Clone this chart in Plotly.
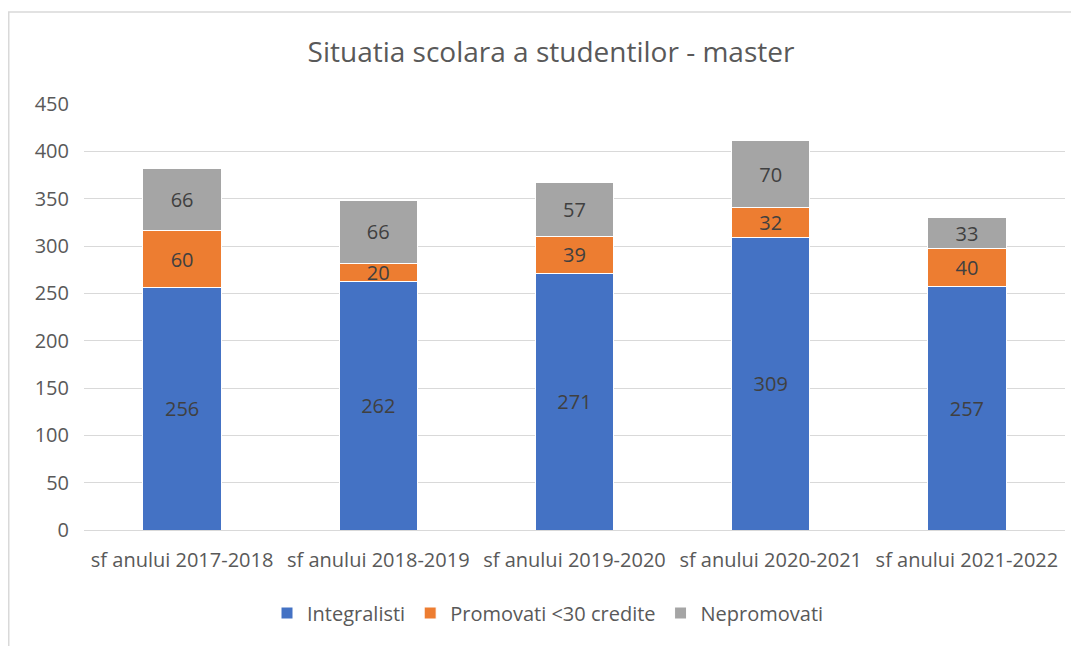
import plotly.graph_objects as go

categories = ["sf anului 2017-2018", "sf anului 2018-2019", "sf anului 2019-2020",
              "sf anului 2020-2021", "sf anului 2021-2022"]
integralisti = [256, 262, 271, 309, 257]
promovati = [60, 20, 39, 32, 40]
nepromovati = [66, 66, 57, 70, 33]

series = [
    ("Integralisti", integralisti, "#4472C4"),
    ("Promovati <30 credite", promovati, "#ED7D31"),
    ("Nepromovati", nepromovati, "#A5A5A5"),
]

# page has an 8px body margin: figure origin sits at page (8, 8)
W, H = 1071, 638
FONT = "Open Sans"
fig = go.Figure()
for name, vals, col in series:
    fig.add_trace(go.Bar(
        x=categories, y=vals, name=name,
        marker=dict(color=col, line=dict(color="white", width=1)),
        text=[str(v) for v in vals], textposition="inside",
        insidetextanchor="middle", textangle=0,
        textfont=dict(family=FONT, size=20, color="#404040"),
        hoverinfo="skip",
    ))

fig.update_layout(
    barmode="stack",
    bargap=0.6,
    width=W, height=H,
    margin=dict(l=76, r=14, t=96, b=116, autoexpand=False),
    paper_bgcolor="white", plot_bgcolor="white",
    font=dict(family=FONT, color="#595959"),
    uniformtext=dict(mode="show", minsize=20),
    title=dict(text="Situatia scolara a studentilor - master",
               x=543 / W, xanchor="center", y=1 - 44 / H, yanchor="middle",
               font=dict(family=FONT, size=28, color="#595959")),
    legend=dict(orientation="h", x=540 / W, xref="container", xanchor="center",
                y=1 - 605 / H, yref="container", yanchor="middle",
                font=dict(family=FONT, size=20, color="#595959"),
                traceorder="normal", itemwidth=30),
    showlegend=True,
)
fig.update_yaxes(range=[0, 450], dtick=50, showgrid=True, gridcolor="#D9D9D9", gridwidth=1,
                 zeroline=False, showline=False, ticks="", automargin=False,
                 tickfont=dict(family=FONT, size=20, color="#595959"),
                 ticklabelstandoff=14)
fig.update_xaxes(showgrid=False, showline=True, linecolor="#D9D9D9", linewidth=1,
                 ticks="", tickangle=0, automargin=False,
                 tickfont=dict(family=FONT, size=20, color="#595959"),
                 ticklabelstandoff=12)

# chart-area border (extends past right and bottom edges like the reference)
fig.add_shape(type="rect", xref="paper", yref="paper",
              x0=(0.75 - 76) / 981, x1=1.1, y0=-0.6, y1=(522 - 4) / 426,
              line=dict(color="#D9D9D9", width=1.5), fillcolor="rgba(0,0,0,0)", layer="below")

fig.write_html("out.html")
